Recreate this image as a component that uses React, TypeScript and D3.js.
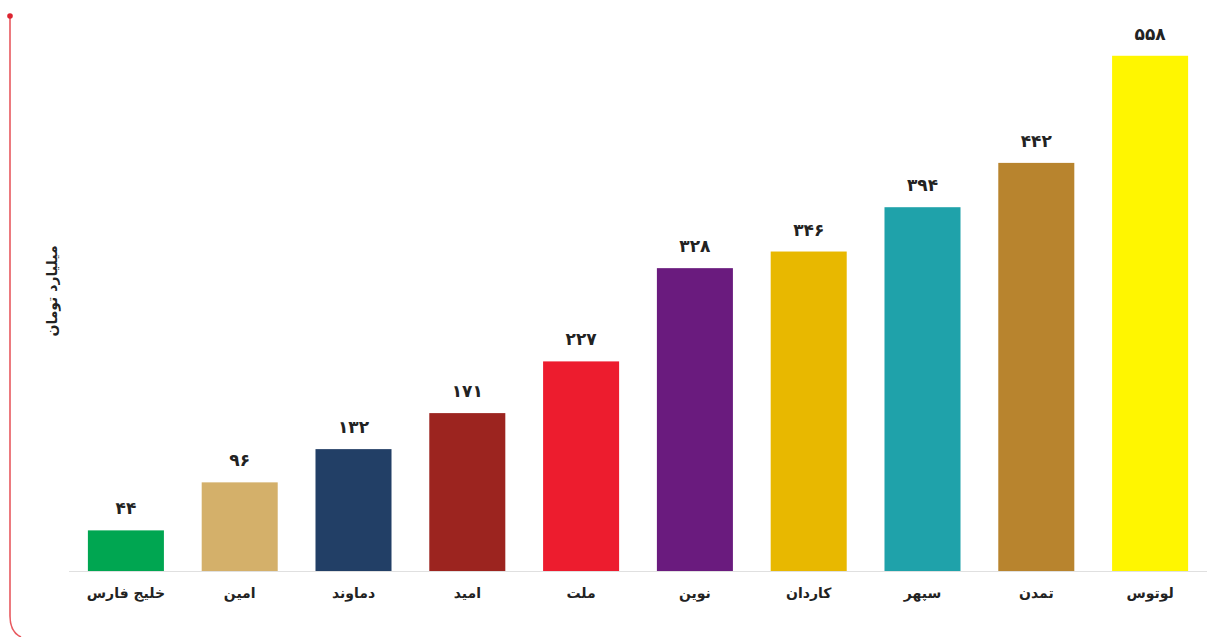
import React from "react";
import * as d3 from "d3";

const categories = ["خلیج فارس", "امین", "دماوند", "امید", "ملت", "نوین", "کاردان", "سپهر", "تمدن", "لوتوس"];
const values = [44, 96, 132, 171, 227, 328, 346, 394, 442, 558];
const colors = ["#00A651", "#D4B06A", "#223F66", "#9C241F", "#ED1C2E", "#6A1B7E", "#E8B800", "#1FA2AA", "#B8842E", "#FFF600"];
const yLabel = "میلیارد تومان";

const W = 1228;
const H = 637;
const toFa = (n: number) => String(n).replace(/\d/g, (d) => "۰۱۲۳۴۵۶۷۸۹"[+d]);

export default function App() {
  const x = d3.scaleBand<string>().domain(categories).range([69, 1207]).paddingInner(0.332).paddingOuter(0.166);
  const y = d3.scaleLinear().domain([0, 600]).range([571, 17]);
  const font = "'DejaVu Sans', sans-serif";
  return (
    <svg width={W} height={H} style={{ position: "absolute", left: 0, top: 0, background: "#fff" }} fontFamily={font}>
      <path d="M10,16 V616 Q10,632 21,637" fill="none" stroke="#e8595f" strokeWidth={1.6} />
      <circle cx={10} cy={16} r={2.8} fill="#dc2430" />
      <line x1={69} x2={1207} y1={571.5} y2={571.5} stroke="#e0e0e0" strokeWidth={1} />
      {categories.map((c, i) => (
        <g key={c}>
          <rect x={x(c)} y={y(values[i])} width={x.bandwidth()} height={y(0) - y(values[i])} fill={colors[i]} />
          <text x={(x(c) as number) + x.bandwidth() / 2} y={y(values[i]) - 22} textAnchor="middle" dominantBaseline="central" fontSize={17} fontWeight="bold" fill="#222">
            {toFa(values[i])}
          </text>
          <text x={(x(c) as number) + x.bandwidth() / 2} y={593} textAnchor="middle" dominantBaseline="central" fontSize={14} fontWeight="bold" fill="#222" direction="rtl">
            {c}
          </text>
        </g>
      ))}
      <text transform="translate(52,291) rotate(-90)" textAnchor="middle" dominantBaseline="central" fontSize={14} fontWeight="bold" fill="#222" direction="rtl">
        {yLabel}
      </text>
    </svg>
  );
}
